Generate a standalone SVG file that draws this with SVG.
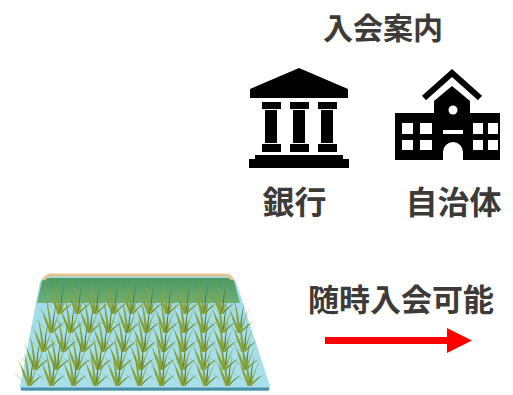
<svg xmlns="http://www.w3.org/2000/svg" xmlns:xlink="http://www.w3.org/1999/xlink" width="513" height="395" viewBox="0 0 513 395">
  <style>
    .lbl { font-family: "Noto Sans CJK JP", "Noto Sans CJK SC", sans-serif; font-weight: bold; fill: #3d3a37; text-anchor: middle; }
    .ink { fill: #000; }
    .win { fill: #fff; }
  </style>
  <defs>
    <linearGradient id="water" x1="0" y1="0" x2="0" y2="1">
      <stop offset="0" stop-color="#9fdbe9"/>
      <stop offset="1" stop-color="#a9e0ee"/>
    </linearGradient>
    <linearGradient id="bank" x1="0" y1="0" x2="0" y2="1">
      <stop offset="0" stop-color="#4f9a62"/>
      <stop offset="1" stop-color="#6bb07a"/>
    </linearGradient>
    <!-- one rice seedling tuft, base at origin -->
    <symbol id="tuft" overflow="visible">
      <g transform="scale(1.25)">
        <g fill="#86a23a">
          <path d="M0,0 Q-3,-12 -9,-22 Q-2,-12 1.5,0 Z"/>
          <path d="M0,0 Q-1,-14 -3,-27 Q1,-14 2,0 Z"/>
          <path d="M1,0 Q4,-10 10,-21 Q4,-9 3,0 Z"/>
          <path d="M0,0 Q-6,-7 -12,-11 Q-5,-5 1,0 Z"/>
          <path d="M0,0 Q-5,-10 -6,-18 Q-3,-10 1.5,0 Z"/>
        </g>
        <path d="M1,0 Q2,-13 5,-25 Q3,-13 2.5,0 Z" fill="#5f7f2c"/>
        <path d="M1,0 Q6,-6 12,-9 Q6,-4 2.5,0 Z" fill="#6f8f30"/>
        <path d="M1,0 Q5,-9 7,-17 Q5,-8 2.5,0 Z" fill="#9ab045"/>
      </g>
    </symbol>
  </defs>

  <rect width="513" height="395" fill="#fff"/>

  <!-- heading -->
  <g id="title">
    <text class="lbl" x="383" y="39" font-size="30">入会案内</text>
  </g>

  <!-- bank icon -->
  <g id="bank-node">
    <g class="ink">
      <polygon points="250,89 299,68 348,89 348,98 250,98"/>
      <rect x="262" y="102" width="19" height="7"/>
      <rect x="290" y="102" width="19" height="7"/>
      <rect x="318" y="102" width="19" height="7"/>
      <rect x="265" y="110" width="12" height="33"/>
      <rect x="293" y="110" width="12" height="33"/>
      <rect x="321" y="110" width="12" height="33"/>
      <rect x="262" y="144" width="19" height="8"/>
      <rect x="290" y="144" width="19" height="8"/>
      <rect x="318" y="144" width="19" height="8"/>
      <rect x="255" y="155" width="88" height="5"/>
      <rect x="249" y="159" width="100" height="9"/>
    </g>
    <text class="lbl" x="294.5" y="214" font-size="32">銀行</text>
  </g>

  <!-- municipality icon -->
  <g id="city-node">
    <polyline points="424,98 452,73 480,98" fill="none" stroke="#000" stroke-width="6"/>
    <g class="ink">
      <polygon points="434,101 452,86 470,101 470,160 434,160"/>
      <rect x="395" y="113" width="40" height="47"/>
      <rect x="469" y="113" width="31" height="47"/>
    </g>
    <g class="win">
      <circle cx="453" cy="110" r="4.5"/>
      <rect x="402" y="123" width="11" height="11"/>
      <rect x="420" y="123" width="12" height="11"/>
      <rect x="402" y="140" width="11" height="10"/>
      <rect x="420" y="140" width="12" height="10"/>
      <rect x="473" y="123" width="10" height="11"/>
      <rect x="488" y="123" width="10" height="11"/>
      <rect x="473" y="140" width="10" height="10"/>
      <rect x="488" y="140" width="10" height="10"/>
      <rect x="443" y="130" width="20" height="4"/>
      <path d="M443,160 V152 A10,10 0 0 1 463,152 V160 Z"/>
    </g>
    <text class="lbl" x="453.5" y="214" font-size="32">自治体</text>
  </g>

  <!-- rice paddy -->
  <g id="paddy-node">
    <path d="M40,282 Q42,276 50,276 L226,276 Q234,276 236,282 L270,386 Q271,391 266,391 L24,391 Q19,391 20,386 Z" fill="url(#water)"/>
    <path d="M21,389 L269,389" stroke="#4b8ea6" stroke-width="3" fill="none"/>
    <path d="M42,281 Q44,278 50,278 L226,278 Q232,278 234,281 L240,303 L37,303 Z" fill="url(#bank)"/>
    <path d="M44,280 Q46,275 52,275 L224,275 Q231,275 232,280" fill="none" stroke="#e6c592" stroke-width="3"/>
    <g id="seedlings">
      <use href="#tuft" x="58" y="314"/><use href="#tuft" x="76" y="314"/><use href="#tuft" x="94" y="314"/>
      <use href="#tuft" x="112" y="314"/><use href="#tuft" x="130" y="314"/><use href="#tuft" x="148" y="314"/>
      <use href="#tuft" x="166" y="314"/><use href="#tuft" x="184" y="314"/><use href="#tuft" x="202" y="314"/>
      <use href="#tuft" x="220" y="314"/>

      <use href="#tuft" x="50" y="333"/><use href="#tuft" x="69" y="333"/><use href="#tuft" x="88" y="333"/>
      <use href="#tuft" x="107" y="333"/><use href="#tuft" x="126" y="333"/><use href="#tuft" x="145" y="333"/>
      <use href="#tuft" x="164" y="333"/><use href="#tuft" x="183" y="333"/><use href="#tuft" x="202" y="333"/>
      <use href="#tuft" x="221" y="333"/><use href="#tuft" x="238" y="333"/>

      <use href="#tuft" x="42" y="352"/><use href="#tuft" x="62" y="352"/><use href="#tuft" x="82" y="352"/>
      <use href="#tuft" x="102" y="352"/><use href="#tuft" x="122" y="352"/><use href="#tuft" x="142" y="352"/>
      <use href="#tuft" x="162" y="352"/><use href="#tuft" x="182" y="352"/><use href="#tuft" x="202" y="352"/>
      <use href="#tuft" x="222" y="352"/><use href="#tuft" x="242" y="352"/>

      <use href="#tuft" x="34" y="370"/><use href="#tuft" x="55" y="370"/><use href="#tuft" x="76" y="370"/>
      <use href="#tuft" x="97" y="370"/><use href="#tuft" x="118" y="370"/><use href="#tuft" x="139" y="370"/>
      <use href="#tuft" x="160" y="370"/><use href="#tuft" x="181" y="370"/><use href="#tuft" x="202" y="370"/>
      <use href="#tuft" x="223" y="370"/><use href="#tuft" x="244" y="370"/>

      <use href="#tuft" x="28" y="386"/><use href="#tuft" x="50" y="386"/><use href="#tuft" x="72" y="386"/>
      <use href="#tuft" x="94" y="386"/><use href="#tuft" x="116" y="386"/><use href="#tuft" x="138" y="386"/>
      <use href="#tuft" x="160" y="386"/><use href="#tuft" x="182" y="386"/><use href="#tuft" x="204" y="386"/>
      <use href="#tuft" x="226" y="386"/><use href="#tuft" x="248" y="386"/>
    </g>
  </g>

  <!-- anytime joining label -->
  <g id="anytime-node">
    <text class="lbl" x="401" y="311" font-size="31">随時入会可能</text>
  </g>

  <!-- connectors -->
  <g id="connectors">
    <rect x="325" y="337" width="124" height="7" fill="#ff0000"/>
    <polygon points="447,328 472,340.5 447,353" fill="#ff0000"/>
  </g>
</svg>
